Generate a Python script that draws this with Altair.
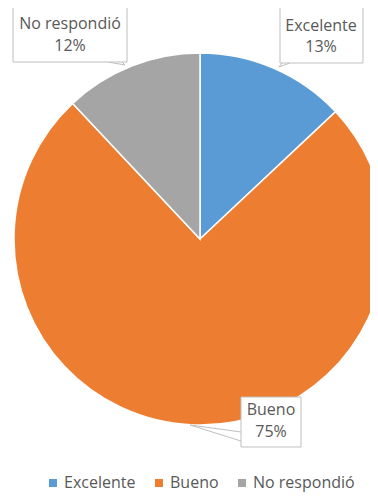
import altair as alt
import pandas as pd

# ---- data ----
categories = ["Excelente", "Bueno", "No respondió"]
values = [13, 75, 12]
colors = ["#5B9BD5", "#ED7D31", "#A5A5A5"]
pct_labels = [f"{v}%" for v in values]

df = pd.DataFrame({"cat": categories, "val": values, "ord": list(range(len(categories)))})

FONT = "Open Sans"
TXT = "#595959"
FS = 16
W, H = 362, 484
CX, CY, R = 192, 231, 186

pie = alt.Chart(df).mark_arc(outerRadius=R, stroke="white", strokeWidth=1.5).encode(
    theta=alt.Theta("val:Q", stack=True),
    color=alt.Color(
        "cat:N",
        scale=alt.Scale(domain=categories, range=colors),
        sort=categories,
        legend=alt.Legend(
            orient="none", legendX=37, legendY=467, direction="horizontal",
            title=None, symbolType="square", symbolSize=64, symbolStrokeWidth=0,
            labelFont=FONT, labelFontSize=FS, labelColor=TXT, labelOffset=3,
            columnPadding=15, padding=0,
        ),
    ),
    order=alt.Order("ord:Q"),
    x=alt.value(CX),
    y=alt.value(CY),
)

one = pd.DataFrame({"a": [0]})

# callout layout (pixel positions of annotation boxes)
boxes = {
    "No respondió": dict(x=5, x2=119, y=-1, y2=54, tx=62, ty1=16, ty2=38,
                         tail=[(100, 54, 117, 57), (114, 54, 117, 57)]),
    "Excelente": dict(x=272, x2=355, y=-1, y2=55, tx=313, ty1=18, ty2=39,
                      tail=[(274, 55, 271, 59), (282, 55, 271, 59)]),
    "Bueno": dict(x=233, x2=293, y=389, y2=439, tx=263, ty1=402, ty2=424,
                  tail=[(233, 424, 182, 417), (233, 433, 182, 417)]),
}

layers = [pie]
for cat, pct in zip(categories, pct_labels):
    b = boxes[cat]
    for (x1, y1, x2, y2) in b["tail"]:
        layers.append(
            alt.Chart(one).mark_rule(color="#BFBFBF", strokeWidth=1).encode(
                x=alt.value(x1), y=alt.value(y1), x2=alt.value(x2), y2=alt.value(y2)
            )
        )
    layers.append(
        alt.Chart(one).mark_rect(fill="white", stroke="#BFBFBF", strokeWidth=1).encode(
            x=alt.value(b["x"]), x2=alt.value(b["x2"]), y=alt.value(b["y"]), y2=alt.value(b["y2"])
        )
    )
    layers.append(
        alt.Chart(pd.DataFrame({"t": [cat]})).mark_text(
            font=FONT, fontSize=FS, color=TXT, align="center", baseline="middle"
        ).encode(text="t:N", x=alt.value(b["tx"]), y=alt.value(b["ty1"]))
    )
    layers.append(
        alt.Chart(pd.DataFrame({"t": [pct]})).mark_text(
            font=FONT, fontSize=FS, color=TXT, align="center", baseline="middle"
        ).encode(text="t:N", x=alt.value(b["tx"]), y=alt.value(b["ty2"]))
    )

chart = alt.layer(*layers).properties(
    width=W, height=H, autosize=alt.AutoSizeParams(type="none"), padding=0
).configure_view(stroke=None)

chart.save("out.html", embed_options={"renderer": "svg", "actions": False})
